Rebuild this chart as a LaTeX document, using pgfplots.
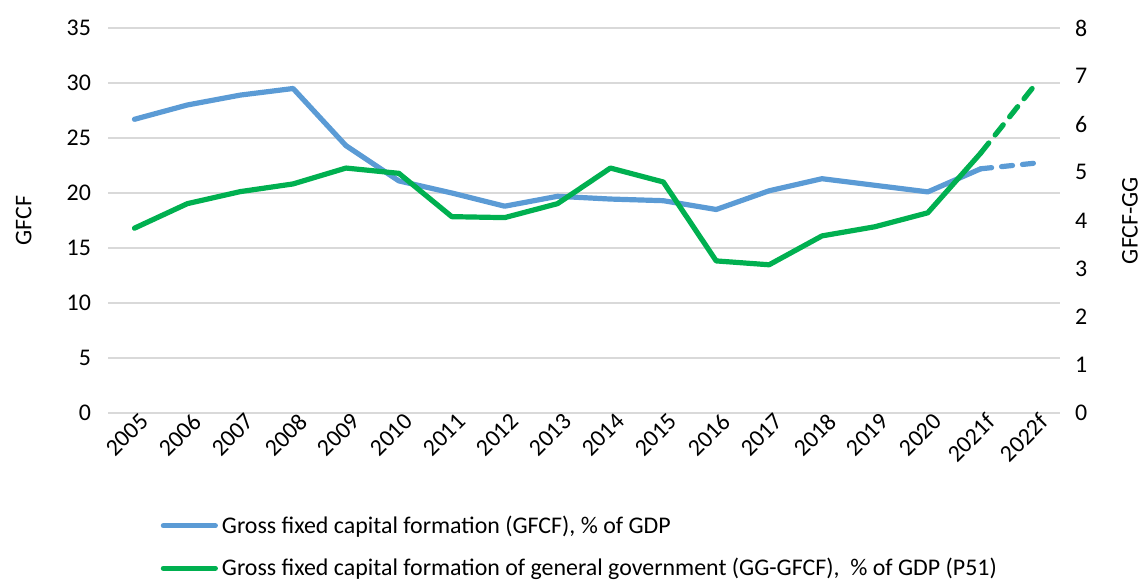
\documentclass[border=0pt]{standalone}
\usepackage{pgfplots}
\pgfplotsset{compat=1.18}
\usepackage{fontspec}
\setmainfont{Carlito}

\definecolor{gfcfblue}{HTML}{5B9BD5}
\definecolor{gggreen}{HTML}{00B050}
\definecolor{gridgray}{HTML}{D9D9D9}

\pgfplotsset{
  common/.style={
    scale only axis, width=476bp, height=192.5bp,
    xmin=-0.5, xmax=17.5,
    axis line style={draw=none},
    major tick length=0pt,
    tick label style={font=\fontsize{12}{14}\selectfont},
    label style={font=\fontsize{12}{14}\selectfont},
    /pgf/number format/assume math mode=true,
  },
  xl/.style={line width=2.6bp, line cap=round, line join=round},
}

\begin{document}
\begin{tikzpicture}
\begin{axis}[common, name=main,
  ymin=0, ymax=35, ytick={0,5,...,35},
  ymajorgrids, grid style={gridgray, line width=1bp},
  xtick={0,...,17},
  xticklabels={2005,2006,2007,2008,2009,2010,2011,2012,2013,2014,2015,2016,2017,2018,2019,2020,2021f,2022f},
  xticklabel style={rotate=45, anchor=north east, inner sep=1bp, xshift=3bp},
  yticklabel style={xshift=-5bp},
  ylabel={GFCF},
  ylabel style={at={(axis description cs:-0.0885,0.5)}, anchor=center},
  legend style={at={(axis description cs:0.055,-0.255)}, anchor=north west,
    draw=none, fill=none, font=\fontsize{12}{14}\selectfont,
    row sep=7bp, inner sep=0pt, cells={anchor=west}},
  legend cell align=left,
  legend image code/.code={\draw[#1] (0bp,0bp) -- (26bp,0bp);},
]
\addplot[xl, gfcfblue] coordinates {
(0,26.7)(1,28.0)(2,28.9)(3,29.5)(4,24.3)(5,21.1)(6,20.0)(7,18.8)(8,19.7)
(9,19.45)(10,19.3)(11,18.5)(12,20.2)(13,21.3)(14,20.7)(15,20.1)(16,22.2)};
\addlegendentry{Gross fixed capital formation (GFCF), \% of GDP}
\addplot[xl, gfcfblue, dash pattern=on 5.5bp off 5bp, forget plot] coordinates {
(16,22.2)(17,22.7)};
\addlegendimage{xl, gggreen}
\addlegendentry{Gross fixed capital formation of general government (GG-GFCF),\ \ \% of GDP (P51)}
\end{axis}

\begin{axis}[common,
  ymin=0, ymax=8, ytick={0,1,...,8},
  axis x line=none, axis y line*=right,
  yticklabel style={xshift=4bp},
  ylabel={GFCF-GG},
  ylabel style={at={(axis description cs:1.0735,0.5)}, anchor=center, rotate=0},
]
\addplot[xl, gggreen] coordinates {
(0,3.84)(1,4.35)(2,4.60)(3,4.76)(4,5.09)(5,4.98)(6,4.08)(7,4.06)(8,4.35)
(9,5.09)(10,4.80)(11,3.16)(12,3.08)(13,3.68)(14,3.87)(15,4.16)(16,5.4)};
\addplot[xl, gggreen, dash pattern=on 6.5bp off 5.1bp] coordinates {
(16,5.4)(17,6.78)};
\end{axis}
\path (main.south west) ++(-54bp,-84.5bp) rectangle ++(574bp,291bp);
\end{tikzpicture}
\end{document}
